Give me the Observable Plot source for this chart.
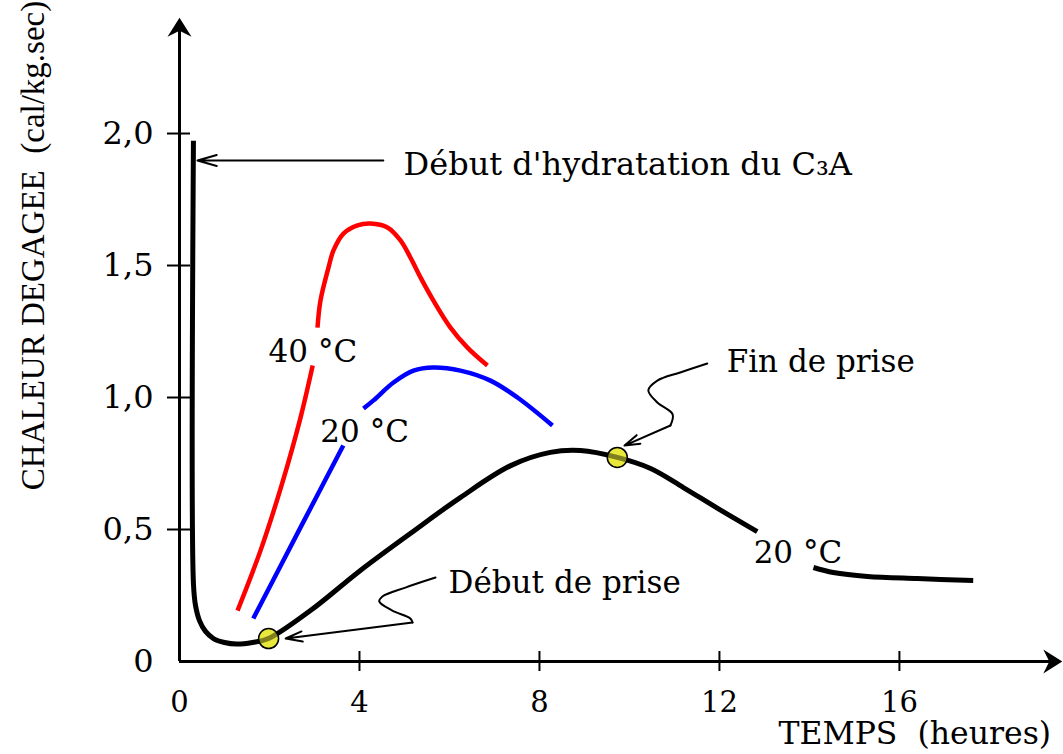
<!DOCTYPE html>
<html><head><meta charset="utf-8">
<script src="https://cdn.jsdelivr.net/npm/d3@7"></script>
<script src="https://cdn.jsdelivr.net/npm/@observablehq/plot@0.6"></script>
<style>html,body{margin:0;padding:0;background:#fff}#chart svg{display:block}</style>
</head><body><div id="chart"></div>
<script>
// ---- axis ticks ----
const xTicks = [0, 4, 8, 12, 16];
const yTicks = [0, 0.5, 1, 1.5, 2];
const yTickLabels = ["0", "0,5", "1,0", "1,5", "2,0"];

// ---- series (time in hours, heat in cal/kg.sec); null = gap behind a label ----
const blackTime = [0.31, 0.31, 0.356, 0.444, 0.578, 0.756, 1.00, 1.267, 1.622, 1.978, 2.91, 4.02, 5.13, 6.24, 7.36, 8.24, 8.91, 9.73, 10.47, 11.20, 11.96, 12.84, null, 14.09, 14.53, 15.29, 16.40, 17.64];
const blackHeat = [1.973, 0.295, 0.212, 0.155, 0.114, 0.087, 0.072, 0.066, 0.072, 0.087, 0.193, 0.345, 0.485, 0.621, 0.742, 0.792, 0.799, 0.773, 0.731, 0.659, 0.580, 0.492, null, 0.356, 0.337, 0.322, 0.314, 0.307];

const redTime = [1.29, 1.80, 2.28, 2.69, 2.96, null, 3.067, 3.133, 3.311, 3.422, 3.644, 3.956, 4.244, 4.622, 4.911, 5.133, 5.356, 5.644, 6.022, 6.400, 6.844];
const redHeat = [0.193, 0.420, 0.674, 0.924, 1.121, null, 1.265, 1.367, 1.492, 1.557, 1.621, 1.652, 1.659, 1.644, 1.595, 1.530, 1.455, 1.367, 1.265, 1.189, 1.121];

const blueTime = [1.64, 2.69, 3.64, null, 4.089, 4.311, 4.756, 5.200, 5.644, 6.244, 6.911, 7.511, 8.289];
const blueHeat = [0.163, 0.508, 0.818, null, 0.958, 0.989, 1.057, 1.102, 1.114, 1.102, 1.064, 1.000, 0.894];

// setting points (début / fin de prise)
const setTime = [1.98, 9.73];
const setHeat = [0.087, 0.773];

// ---- annotations (data units) ----
const hydrationArrow = [{x1: 4.53, y1: 1.898, x2: 0.40, y2: 1.898}];
const debutPath = {t: [5.69, 5.02, 4.51, 4.44, 4.73, 5.13, 5.18], h: [0.318, 0.280, 0.246, 0.227, 0.193, 0.163, 0.148]};
const debutHead = [{x1: 5.18, y1: 0.148, x2: 2.36, y2: 0.087}];
const finPath = {t: [11.73, 11.13, 10.62, 10.42, 10.62, 10.96, 10.91], h: [1.129, 1.095, 1.064, 1.027, 0.981, 0.936, 0.894]};
const finHead = [{x1: 10.91, y1: 0.894, x2: 9.89, y2: 0.818}];

const labels = [
  {t: 4.98, h: 1.841, text: "Début d'hydratation du C\u2083A", size: 32},
  {t: 1.98, h: 1.136, text: "40 °C", size: 31},
  {t: 3.13, h: 0.830, text: "20 °C", size: 31},
  {t: 12.76, h: 0.375, text: "20 °C", size: 31},
  {t: 12.16, h: 1.098, text: "Fin de prise", size: 31},
  {t: 5.98, h: 0.261, text: "Début de prise", size: 31}
];
const xTitle = "TEMPS \u00a0(heures)";
const yTitle = "CHALEUR DEGAGEE \u00a0(cal/kg.sec)";

// ---- build tables ----
const rows = (T, H) => T.map((t, i) => ({time: t, heat: H[i]}));
const black = rows(blackTime, blackHeat);
const red = rows(redTime, redHeat);
const blue = rows(blueTime, blueHeat);
const setPts = rows(setTime, setHeat);
const debut = rows(debutPath.t, debutPath.h);
const fin = rows(finPath.t, finPath.h);
const yTickData = yTicks.map((v, i) => ({v, label: yTickLabels[i]}));

// filled arrowheads for the axes (tip at the anchor point)
const headUp = {draw(ctx, size) {
  const s = Math.sqrt(size / Math.PI) / 10;
  ctx.moveTo(0, 0); ctx.lineTo(12 * s, 19 * s); ctx.lineTo(0, 13 * s); ctx.lineTo(-12 * s, 19 * s); ctx.closePath();
}};
const headRight = {draw(ctx, size) {
  const s = Math.sqrt(size / Math.PI) / 10;
  ctx.moveTo(0, 0); ctx.lineTo(-19 * s, -12 * s); ctx.lineTo(-13 * s, 0); ctx.lineTo(-19 * s, 12 * s); ctx.closePath();
}};

const serif = "DejaVu Serif";
const lineOpts = {x: "time", y: "heat", curve: "catmull-rom", strokeLinecap: "butt", strokeLinejoin: "round"};

const chart = Plot.plot({
  width: 1063, height: 754,
  marginLeft: 179, marginRight: 3, marginTop: 10, marginBottom: 93,
  x: {domain: [0, 19.58], axis: null},
  y: {domain: [0, 2.466], axis: null},
  style: {fontFamily: serif, background: "#fff", color: "#000"},
  marks: [
    // axes
    Plot.ruleY([0], {x1: 0, x2: 19.4, strokeWidth: 3}),
    Plot.ruleX([0], {y1: 0, y2: 2.4, strokeWidth: 3}),
    Plot.dot([{t: 0, h: 2.439}], {x: "t", y: "h", r: 10, symbol: headUp, fill: "#000", stroke: null}),
    Plot.dot([{t: 19.62, h: 0}], {x: "t", y: "h", r: 10, symbol: headRight, fill: "#000", stroke: null}),
    Plot.ruleX(xTicks.filter(d => d > 0), {x: d => d, y1: 0, y2: 0, insetTop: -10, insetBottom: -10, strokeWidth: 2}),
    Plot.ruleY(yTicks.filter(d => d > 0), {y: d => d, x1: 0, x2: 0, insetLeft: -12, insetRight: -11, strokeWidth: 2}),
    Plot.text(xTicks, {x: d => d, y: 0, text: d => String(d), dy: 41, lineAnchor: "middle", fontSize: 29, fill: "#000"}),
    Plot.text(yTickData, {x: 0, y: "v", text: "label", textAnchor: "end", dx: -26, lineAnchor: "middle", fontSize: 32, fill: "#000"}),
    // curves
    Plot.line(red, {...lineOpts, stroke: "#ff0000", strokeWidth: 4.5}),
    Plot.line(blue, {...lineOpts, stroke: "#0000ff", strokeWidth: 4.5}),
    Plot.dot(setPts, {x: "time", y: "heat", r: 10, fill: "#e8e83a", stroke: null}),
    Plot.line(black, {...lineOpts, stroke: "#000", strokeWidth: 5}),
    Plot.dot(setPts, {x: "time", y: "heat", r: 10, fill: "#e8e83a", fillOpacity: 0.55, stroke: "#000", strokeWidth: 1.5}),
    // annotation arrows
    Plot.arrow(hydrationArrow, {x1: "x1", y1: "y1", x2: "x2", y2: "y2", stroke: "#000", strokeWidth: 2, headLength: 15, headAngle: 32}),
    Plot.line(debut, {x: "time", y: "heat", curve: "catmull-rom", stroke: "#000", strokeWidth: 2}),
    Plot.arrow(debutHead, {x1: "x1", y1: "y1", x2: "x2", y2: "y2", stroke: "#000", strokeWidth: 2, headLength: 13, headAngle: 34}),
    Plot.line(fin, {x: "time", y: "heat", curve: "catmull-rom", stroke: "#000", strokeWidth: 2}),
    Plot.arrow(finHead, {x1: "x1", y1: "y1", x2: "x2", y2: "y2", stroke: "#000", strokeWidth: 2, headLength: 12, headAngle: 34}),
    // labels
    Plot.text(labels, {x: "t", y: "h", text: "text", textAnchor: "start", lineAnchor: "bottom", fontSize: "size", fill: "#000"}),
    Plot.text([xTitle], {x: 13.31, y: -0.314, text: d => d, textAnchor: "start", lineAnchor: "bottom", fontSize: 31.5, fill: "#000"}),
    Plot.text([yTitle], {x: -3.244, y: 1.576, text: d => d, rotate: -90, textAnchor: "middle", lineAnchor: "middle", fontSize: 33, fontFamily: "Liberation Serif", fill: "#000"})
  ]
});
document.getElementById("chart").append(chart);
</script>
</body></html>
